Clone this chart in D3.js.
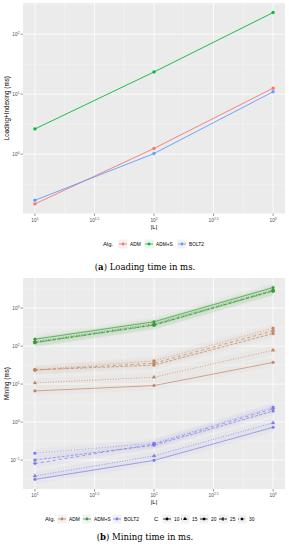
<!DOCTYPE html>
<html>
<head>
<meta charset="utf-8">
<style>
  body { margin: 0; background: white; }
  text { font-family: "Liberation Sans", Arial, sans-serif; }
  .cap { font-family: "DejaVu Serif", "Liberation Serif", serif; }
</style>
</head>
<body>
<svg id="chart" width="289" height="550"></svg>
<script src="https://cdn.jsdelivr.net/npm/d3@7"></script>
<script>
// data (log10 values)
const sizes = [10, 100, 1000]
const algs = ["ADM", "ADM+S", "BOLT2"]
const cValues = [10, 15, 20, 25, 30]

const loadADM = [-0.83, 0.095, 1.1]
const loadADMS = [0.42, 1.37, 2.36]
const loadBOLT2 = [-0.77, 0.01, 1.04]

// mining time per C (rows follow cValues)
const mineADM = [
  [0.82, 0.96, 1.57],
  [1.03, 1.18, 1.89],
  [1.37, 1.50, 2.33],
  [1.37, 1.55, 2.40],
  [1.38, 1.61, 2.47]
]
const mineADMS = [
  [2.18, 2.64, 3.54],
  [2.12, 2.59, 3.48],
  [2.09, 2.55, 3.45],
  [2.10, 2.56, 3.46],
  [2.09, 2.56, 3.45]
]
const mineBOLT2 = [
  [-1.51, -1.01, -0.14],
  [-1.42, -0.89, -0.02],
  [-1.00, -0.61, 0.29],
  [-1.09, -0.58, 0.35],
  [-0.82, -0.56, 0.39]
]
const xTicks = [1, 1.5, 2, 2.5, 3]
const yTicksA = [0, 1, 2]
const yTicksB = [-1, 0, 1, 2, 3]

const colorsA = ["#F8766D", "#00BA38", "#619CFF"]
const colorsB = ["#C08663", "#3C9C3C", "#7C7CEB"]
const dashes = [null, "1,1.6", "3,1.5", "3,3", "0.8,2"]
const shapes = [d3.symbolCircle, d3.symbolTriangle, d3.symbolSquare, d3.symbolCross, d3.symbolSquare]

const svg = d3.select("#chart")

function expand(lo, hi) {
  let pad = (hi - lo) * 0.05
  return [lo - pad, hi + pad]
}

function tickLabel(sel, v) {
  sel.text("10")
  sel.append("tspan")
    .attr("baseline-shift", "super")
    .attr("font-size", "3.3px")
    .text(String(v).replace("-", "\u2212"))
}

function panel(opt) {
  const g = svg.append("g")
  const x = d3.scaleLinear().domain(expand(1, 3)).range([23, 285])
  const allY = opt.series.flatMap(s => s.values)
  const y = d3.scaleLinear().domain(expand(d3.min(allY), d3.max(allY))).range([opt.bottom, opt.top])

  g.append("rect")
    .attr("x", 23).attr("y", opt.top)
    .attr("width", 262).attr("height", opt.bottom - opt.top)
    .attr("fill", "#EBEBEB")

  // minor grid
  const [y0, y1] = y.domain()
  const minorY = d3.range(Math.ceil(y0 * 2) / 2, y1, 0.5).filter(v => !Number.isInteger(v))
  g.selectAll(".my").data(minorY).enter().append("line")
    .attr("x1", 23).attr("x2", 285)
    .attr("y1", d => y(d)).attr("y2", d => y(d))
    .attr("stroke", "white").attr("stroke-width", 0.35)
  const minorX = [1.25, 1.75, 2.25, 2.75]
  g.selectAll(".mx").data(minorX).enter().append("line")
    .attr("y1", opt.top).attr("y2", opt.bottom)
    .attr("x1", d => x(d)).attr("x2", d => x(d))
    .attr("stroke", "white").attr("stroke-width", 0.35)

  // major grid
  g.selectAll(".gy").data(opt.yTicks).enter().append("line")
    .attr("x1", 23).attr("x2", 285)
    .attr("y1", d => y(d)).attr("y2", d => y(d))
    .attr("stroke", "white").attr("stroke-width", 0.8)
  g.selectAll(".gx").data(xTicks).enter().append("line")
    .attr("y1", opt.top).attr("y2", opt.bottom)
    .attr("x1", d => x(d)).attr("x2", d => x(d))
    .attr("stroke", "white").attr("stroke-width", 0.8)

  // ticks + labels
  g.selectAll(".ty").data(opt.yTicks).enter().append("line")
    .attr("x1", 20.5).attr("x2", 23)
    .attr("y1", d => y(d)).attr("y2", d => y(d))
    .attr("stroke", "#333").attr("stroke-width", 0.5)
  g.selectAll(".ly").data(opt.yTicks).enter().append("text")
    .attr("x", 19.5).attr("y", d => y(d) + 1.7)
    .attr("text-anchor", "end").attr("font-size", "4.8px").attr("fill", "#4D4D4D")
    .each(function(d) { tickLabel(d3.select(this), d) })
  g.selectAll(".tx").data(xTicks).enter().append("line")
    .attr("y1", opt.bottom).attr("y2", opt.bottom + 2.5)
    .attr("x1", d => x(d)).attr("x2", d => x(d))
    .attr("stroke", "#333").attr("stroke-width", 0.5)
  g.selectAll(".lx").data(xTicks).enter().append("text")
    .attr("x", d => x(d)).attr("y", opt.bottom + 8)
    .attr("text-anchor", "middle").attr("font-size", "4.8px").attr("fill", "#4D4D4D")
    .each(function(d) { tickLabel(d3.select(this), d) })

  g.append("text").attr("x", x(2)).attr("y", opt.bottom + 15)
    .attr("text-anchor", "middle").attr("font-size", "6px").text("|L|")
  g.append("text")
    .attr("transform", `translate(8.5,${(opt.top + opt.bottom) / 2}) rotate(-90)`)
    .attr("text-anchor", "middle").attr("font-size", "6.3px").text(opt.yTitle)

  const line = d3.line().x((d, i) => x(Math.log10(sizes[i]))).y(d => y(d))

  if (opt.ribbon) {
    const area = d3.area()
      .x((d, i) => x(Math.log10(sizes[i])))
      .y0(d => y(d - opt.ribbon)).y1(d => y(d + opt.ribbon))
    g.selectAll(".rib").data(opt.series).enter().append("path")
      .attr("d", s => area(s.values))
      .attr("fill", s => s.color).attr("opacity", 0.035)
  }

  g.selectAll(".ln").data(opt.series).enter().append("path")
    .attr("d", s => line(s.values))
    .attr("fill", "none").attr("stroke", s => s.color)
    .attr("stroke-width", opt.lw)
    .attr("stroke-dasharray", s => s.dash)

  opt.series.forEach(s => {
    g.selectAll(null).data(s.values).enter().append("path")
      .attr("transform", (d, i) => `translate(${x(Math.log10(sizes[i]))},${y(d)})`)
      .attr("d", d3.symbol().type(s.shape).size(opt.symSize))
      .attr("fill", s.color)
      .attr("stroke", s.color).attr("stroke-width", 0.3)
  })
}

// panel (a)
panel({
  top: 3, bottom: 213.5, yTicks: yTicksA, yTitle: "Loading+Indexing (ms)", lw: 0.9, symSize: 7,
  series: [loadADM, loadADMS, loadBOLT2].map((v, i) => ({
    values: v, color: colorsA[i], dash: null, shape: d3.symbolCircle
  }))
})

// panel (b)
const mining = [mineADM, mineADMS, mineBOLT2]
const seriesB = []
mining.forEach((rows, a) => rows.forEach((v, c) => seriesB.push({
  values: v, color: colorsB[a], dash: dashes[c], shape: shapes[c]
})))
panel({
  top: 278, bottom: 489, yTicks: yTicksB, yTitle: "Mining (ms)", lw: 0.7, symSize: 6,
  ribbon: 0.12, series: seriesB
})

// legends
function legendKey(x, y, color, shape, dash) {
  svg.append("rect").attr("x", x - 4.5).attr("y", y - 4.5).attr("width", 9).attr("height", 9).attr("fill", "#F2F2F2")
  svg.append("line").attr("x1", x - 4).attr("x2", x + 4).attr("y1", y).attr("y2", y)
    .attr("stroke", color).attr("stroke-width", 0.8).attr("stroke-dasharray", dash)
  svg.append("path").attr("transform", `translate(${x},${y})`)
    .attr("d", d3.symbol().type(shape).size(6)).attr("fill", color)
}
function legendText(x, y, t, size) {
  svg.append("text").attr("x", x).attr("y", y + 1.8).attr("font-size", size || "4.8px").text(t)
}

legendText(103, 244, "Alg.", "5.8px")
const keyXA = [123, 149, 182]
algs.forEach((a, i) => {
  legendKey(keyXA[i], 244, colorsA[i], d3.symbolCircle, null)
  legendText(keyXA[i] + 7, 244, a)
})

legendText(45, 519, "Alg.", "5.8px")
const keyXB = [62, 87, 117]
algs.forEach((a, i) => {
  legendKey(keyXB[i], 519, colorsB[i], d3.symbolCircle, null)
  legendText(keyXB[i] + 7, 519, a)
})
legendText(154, 519, "C", "5.8px")
const keyXC = [167, 185, 204, 223, 242]
cValues.forEach((c, i) => {
  legendKey(keyXC[i], 519, "black", shapes[i], dashes[i])
  legendText(keyXC[i] + 7, 519, String(c))
})

// captions
const capA = svg.append("text").attr("class", "cap").attr("x", 145).attr("y", 270)
  .attr("text-anchor", "middle").attr("font-size", "8.5px")
capA.append("tspan").text("(")
capA.append("tspan").attr("font-weight", "bold").text("a")
capA.append("tspan").text(") Loading time in ms.")
const capB = svg.append("text").attr("class", "cap").attr("x", 145).attr("y", 540)
  .attr("text-anchor", "middle").attr("font-size", "8.5px")
capB.append("tspan").text("(")
capB.append("tspan").attr("font-weight", "bold").text("b")
capB.append("tspan").text(") Mining time in ms.")
</script>
</body>
</html>
